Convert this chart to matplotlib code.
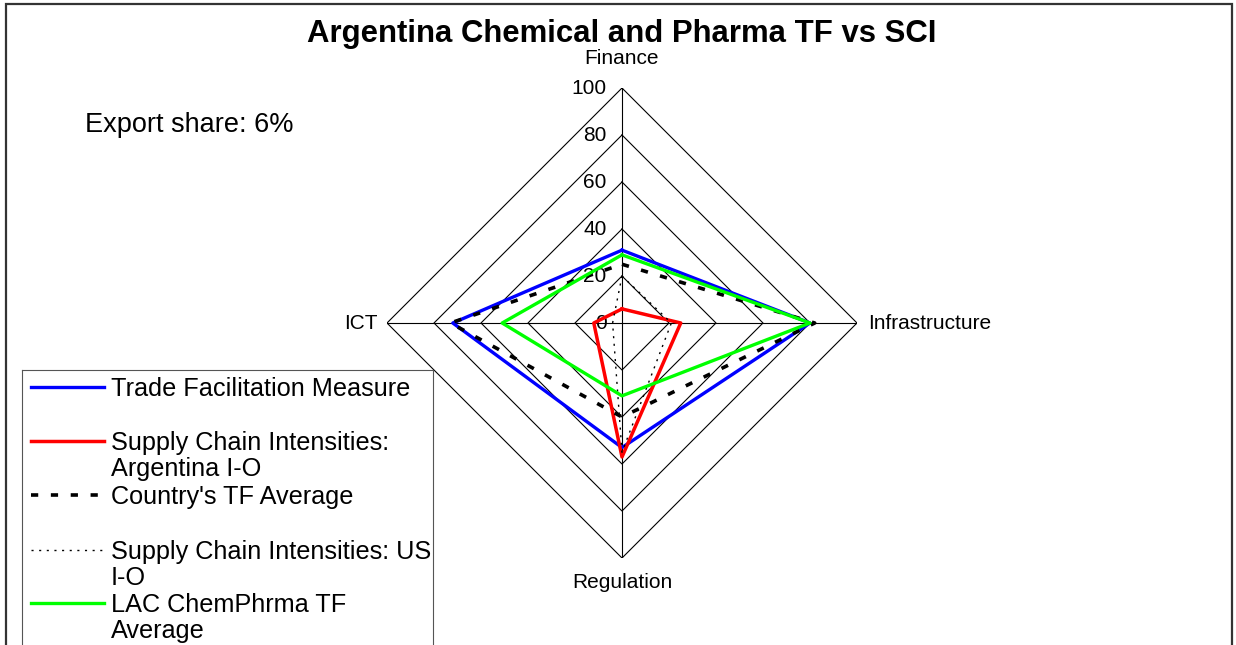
import numpy as np
import matplotlib
matplotlib.use('Agg')
import matplotlib.pyplot as plt
from matplotlib.patches import Rectangle

plt.rcParams['font.family'] = ['Liberation Sans', 'DejaVu Sans']

# Datos
categories = ['Finance', 'Infrastructure', 'Regulation', 'ICT']
tf_measure = [31, 80, 53, 72]
sci_argentina = [6, 25, 57, 12]
country_tf_avg = [25, 82, 40, 73]
sci_us = [20, 21, 55, 4]
lac_tf_avg = [29, 80, 31, 51]
ring_values = [0, 20, 40, 60, 80, 100]

series_labels = ['Trade Facilitation Measure',
                 'Supply Chain Intensities:\nArgentina I-O',
                 "Country's TF Average",
                 'Supply Chain Intensities: US\nI-O',
                 'LAC ChemPhrma TF\nAverage']
series_values = [tf_measure, sci_argentina, country_tf_avg, sci_us, lac_tf_avg]
series_styles = [dict(color='#0000ff', lw=2.4, ls='-'),
                 dict(color='#ff0000', lw=2.5, ls='-'),
                 dict(color='black', lw=2.6, ls=(0, (2, 3.5))),
                 dict(color='black', lw=1.0, ls=(0, (1.5, 4))),
                 dict(color='#00ff00', lw=2.4, ls='-')]

W, H = 1236, 645
fig = plt.figure(figsize=(W / 100, H / 100), dpi=100)

# eje polar: centro (622, 323) px, radio 235 px
cx, cy, rad = 622, 323, 235
ax = fig.add_axes([(cx - rad) / W, (H - cy - rad) / H, 2 * rad / W, 2 * rad / H],
                  projection='polar')
ax.set_theta_offset(np.pi / 2)
ax.set_theta_direction(-1)
ax.set_ylim(0, 100)
ax.grid(False)
ax.spines['polar'].set_visible(False)
ax.set_xticks([])
ax.set_yticks([])
ax.patch.set_alpha(0)

n = len(categories)
theta = np.arange(n) * 2 * np.pi / n
theta_closed = np.append(theta, theta[0])

# anillos en forma de rombo y radios
for r in ring_values[1:]:
    ax.plot(theta_closed, [r] * (n + 1), color='black', lw=0.8, zorder=1)
for t in theta:
    ax.plot([t, t], [0, 100], color='black', lw=0.8, zorder=1)

for r in ring_values:
    ax.annotate(str(r), xy=(0, r), xytext=(-11, 0), textcoords='offset points',
                ha='right', va='center', fontsize=15, annotation_clip=False)

label_pos = [((0, 21), 'center', 'center'),
             ((8, 0), 'left', 'center'),
             ((0, -18), 'center', 'center'),
             ((-7, 0), 'right', 'center')]
for t, name, (off, ha, va) in zip(theta, categories, label_pos):
    ax.annotate(name, xy=(t, 100), xytext=off, textcoords='offset points',
                ha=ha, va=va, fontsize=15, annotation_clip=False)

for vals, st in zip(series_values, series_styles):
    v = np.append(vals, vals[0])
    ax.plot(theta_closed, v, color=st['color'], lw=st['lw'], linestyle=st['ls'],
            zorder=3, clip_on=False)

fig.text(622 / W, 1 - 34 / H, 'Argentina Chemical and Pharma TF vs SCI',
         ha='center', va='center', fontsize=22.4, fontweight='bold')
fig.text(85 / W, 1 - 125 / H, 'Export share: 6%', ha='left', va='center', fontsize=19.5)

# leyenda (caja cortada por el borde inferior)
lx0, lx1, ly0, ly1 = 22, 433, 370, 680
lax = fig.add_axes([lx0 / W, (H - ly1) / H, (lx1 - lx0) / W, (ly1 - ly0) / H])
lax.set_xlim(lx0, lx1)
lax.set_ylim(ly1, ly0)
lax.set_xticks([])
lax.set_yticks([])
for sp in lax.spines.values():
    sp.set_color('#555555')
    sp.set_linewidth(0.8)
row_y = [387, 441, 495, 550, 603]
for y, lab, st in zip(row_y, series_labels, series_styles):
    lax.plot([31, 104], [y, y], color=st['color'], lw=st['lw'], linestyle=st['ls'])
    lax.text(111, y - 10, lab, ha='left', va='top', fontsize=18.2, linespacing=1.12)

# borde del grafico
fig.add_artist(Rectangle((6 / W, -0.1), (1232 - 6) / W, (H - 4) / H + 0.1,
                         transform=fig.transFigure, fill=False,
                         edgecolor='#333333', lw=1.6))

fig.savefig('out.png', dpi=100)
